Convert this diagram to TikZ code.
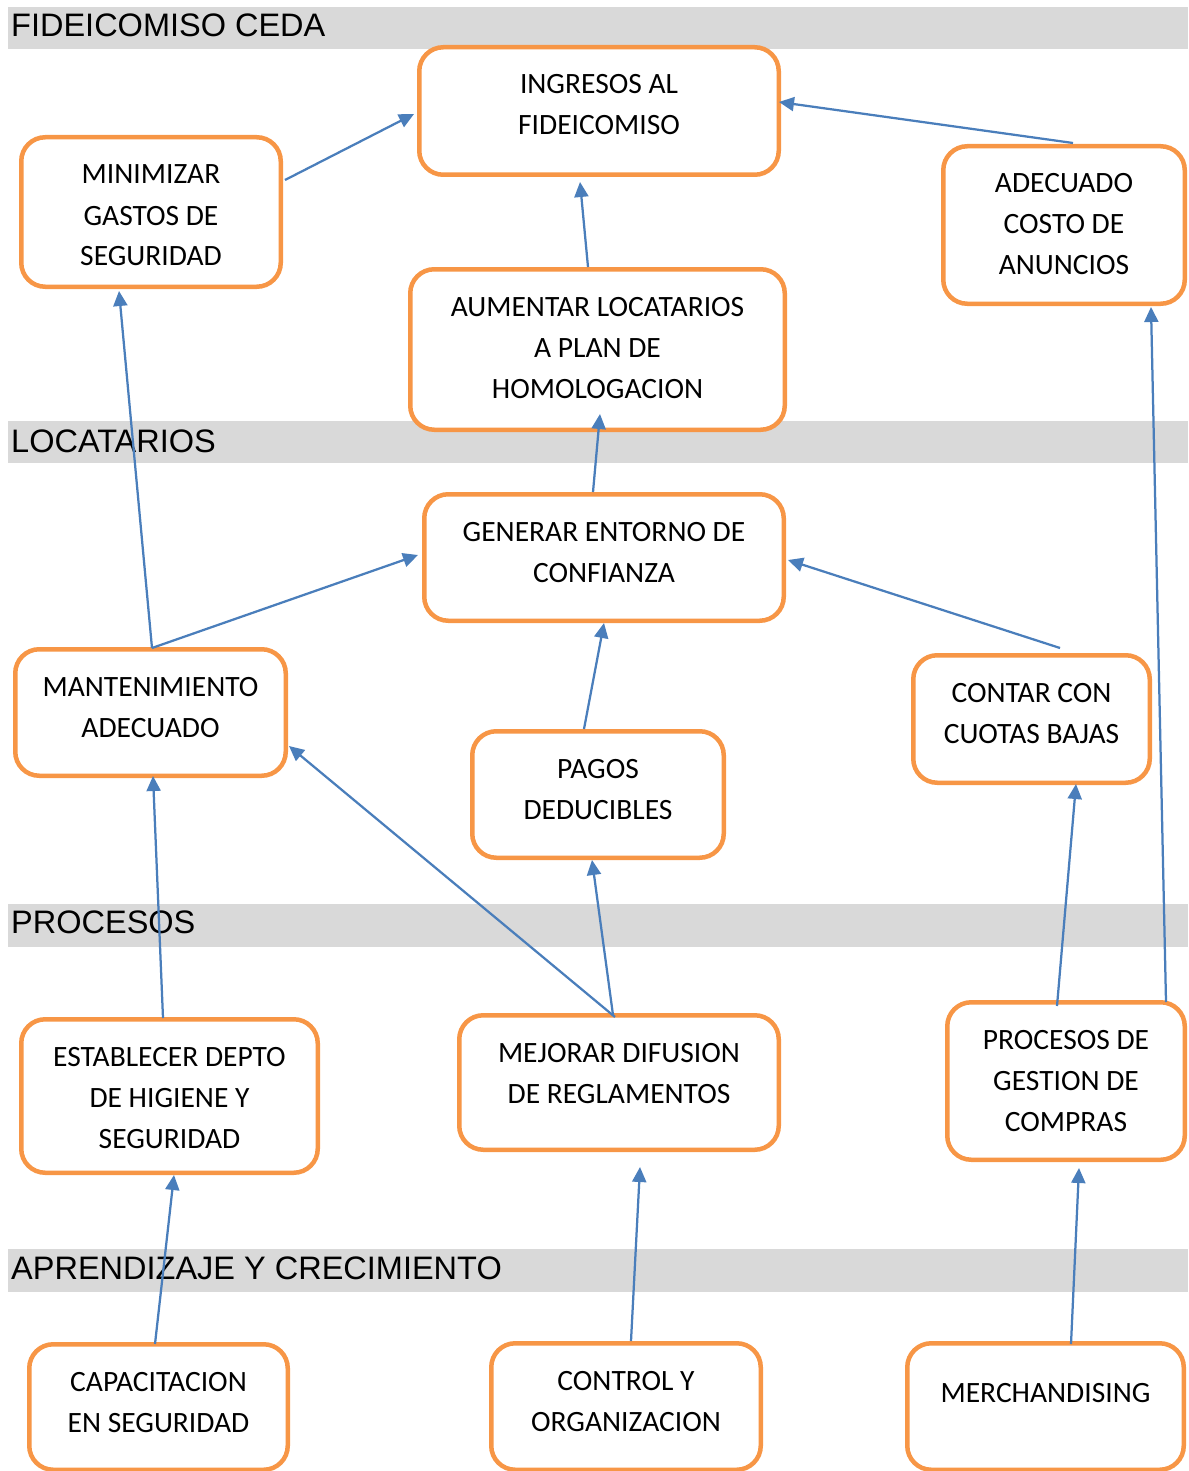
\documentclass[tikz,border=0pt]{standalone}
\usepackage{fontspec}
\setmainfont{Carlito}
\newfontfamily\bandfont{Liberation Sans}
\usetikzlibrary{arrows.meta,calc}

\definecolor{goalorange}{HTML}{F79646}
\definecolor{linkblue}{HTML}{4A7EBB}
\definecolor{bandgray}{HTML}{D9D9D9}

\tikzset{
  goal/.style={draw=goalorange, line width=4.5pt, fill=white, rounded corners=24pt,
    inner sep=0pt, font=\fontsize{29.5}{41}\selectfont},
  link/.style={draw=linkblue, line width=2.25pt, -{Triangle[length=15pt,width=14pt]}},
  band/.style={fill=bandgray},
  bandlabel/.style={anchor=base west, inner sep=0pt, font=\bandfont\fontsize{32.5}{38}\selectfont},
}

% goal box: [first-line strut] name, left, top, right, bottom (outer edges), text
\newcommand\goalbox[7][46.75]{%
  \pgfmathsetmacro\gbw{#5-#3-4.5}%
  \pgfmathsetmacro\gbh{#6-#4-4.5}%
  \node[goal] (#2) at ({(#3+#5)/2},{(#4+#6)/2})
    {\parbox[c][\gbh pt][t]{\gbw pt}{\centering\rule{0pt}{#1pt}#7}};%
}

\begin{document}
\begin{tikzpicture}[x=1pt,y=-1pt]
\useasboundingbox (0,0) rectangle (1188,1471);
\clip (0,0) rectangle (1188,1471);

% perspective bands
\fill[band] (8,7) rectangle (1188,49);
\node[bandlabel] (fideicomiso) at (11,37) {FIDEICOMISO CEDA};
\fill[band] (8,421) rectangle (1188,463);
\node[bandlabel] (locatarios) at (11,452) {LOCATARIOS};
\fill[band] (8,904) rectangle (1188,947);
\node[bandlabel] (procesos) at (11,933) {PROCESOS};
\fill[band] (8,1249) rectangle (1188,1292);
\node[bandlabel] (aprendizaje) at (11,1279) {APRENDIZAJE Y CRECIMIENTO};

% objectives
\goalbox{ingresos}{417}{45}{781}{177}{INGRESOS AL\\FIDEICOMISO}
\goalbox{minim}{19}{135}{283}{289}{MINIMIZAR\\GASTOS DE\\SEGURIDAD}
\goalbox{anuncios}{941}{144}{1187}{306}{ADECUADO\\COSTO DE\\ANUNCIOS}
\goalbox{aumentar}{408}{267}{787}{432}{AUMENTAR LOCATARIOS\\A PLAN DE\\HOMOLOGACION}
\goalbox{generar}{422}{492}{786}{623}{GENERAR ENTORNO DE\\CONFIANZA}
\goalbox{mant}{13}{647}{288}{778}{MANTENIMIENTO\\ADECUADO}
\goalbox{contar}{911}{653}{1152}{785}{CONTAR CON\\CUOTAS BAJAS}
\goalbox{pagos}{470}{729}{726}{860}{PAGOS\\DEDUCIBLES}
\goalbox{establecer}{19}{1017}{320}{1175}{ESTABLECER DEPTO\\DE HIGIENE Y\\SEGURIDAD}
\goalbox{mejorar}{457}{1013}{781}{1152}{MEJORAR DIFUSION\\DE REGLAMENTOS}
\goalbox{compras}{945}{1000}{1187}{1162}{PROCESOS DE\\GESTION DE\\COMPRAS}
\goalbox{capac}{27}{1342}{290}{1472}{CAPACITACION\\EN SEGURIDAD}
\goalbox{control}{489}{1341}{763}{1472}{CONTROL Y\\ORGANIZACION}
\goalbox[58.75]{merch}{905}{1341}{1186}{1472}{MERCHANDISING}

% cause-effect links
\draw[link] ($(minim.center)+(134,-32)$) -- ($(ingresos.center)+(-185,3)$);
\draw[link] ($(aumentar.center)+(-9.5,-82.5)$) -- ($(ingresos.center)+(-19,71)$);
\draw[link] ($(anuncios.center)+(9,-82)$) -- ($(ingresos.center)+(180,-9)$);
\draw[link] ($(generar.center)+(-11,-65.5)$) -- ($(aumentar.center)+(2.5,64.5)$);
\draw[link] ($(mant.center)+(1.5,-64.5)$) -- ($(minim.center)+(-32,79)$);
\draw[link] ($(mant.center)+(1.5,-64.5)$) -- ($(generar.center)+(-186,-2.5)$);
\draw[link] ($(contar.center)+(28.5,-71)$) -- ($(generar.center)+(184,2.5)$);
\draw[link] ($(pagos.center)+(-14,-65.5)$) -- ($(generar.center)+(0,65.5)$);
\draw[link] ($(establecer.center)+(-6.5,-78)$) -- ($(mant.center)+(2.5,63.5)$);
\draw[link] ($(mejorar.center)+(-4,-65.5)$) -- ($(mant.center)+(138.5,33.5)$);
\draw[link] ($(mejorar.center)+(-6,-67.5)$) -- ($(pagos.center)+(-6,65.5)$);
\draw[link] ($(compras.center)+(-9,-75)$) -- ($(contar.center)+(44.5,65)$);
\draw[link] ($(compras.center)+(100,-79)$) -- ($(anuncios.center)+(87,82)$);
\draw[link] ($(capac.center)+(-3.5,-63)$) -- ($(establecer.center)+(4.5,79)$);
\draw[link] ($(control.center)+(5,-65.5)$) -- ($(mejorar.center)+(21,84.5)$);
\draw[link] ($(merch.center)+(25.5,-62.5)$) -- ($(compras.center)+(13,87)$);
\end{tikzpicture}
\end{document}
